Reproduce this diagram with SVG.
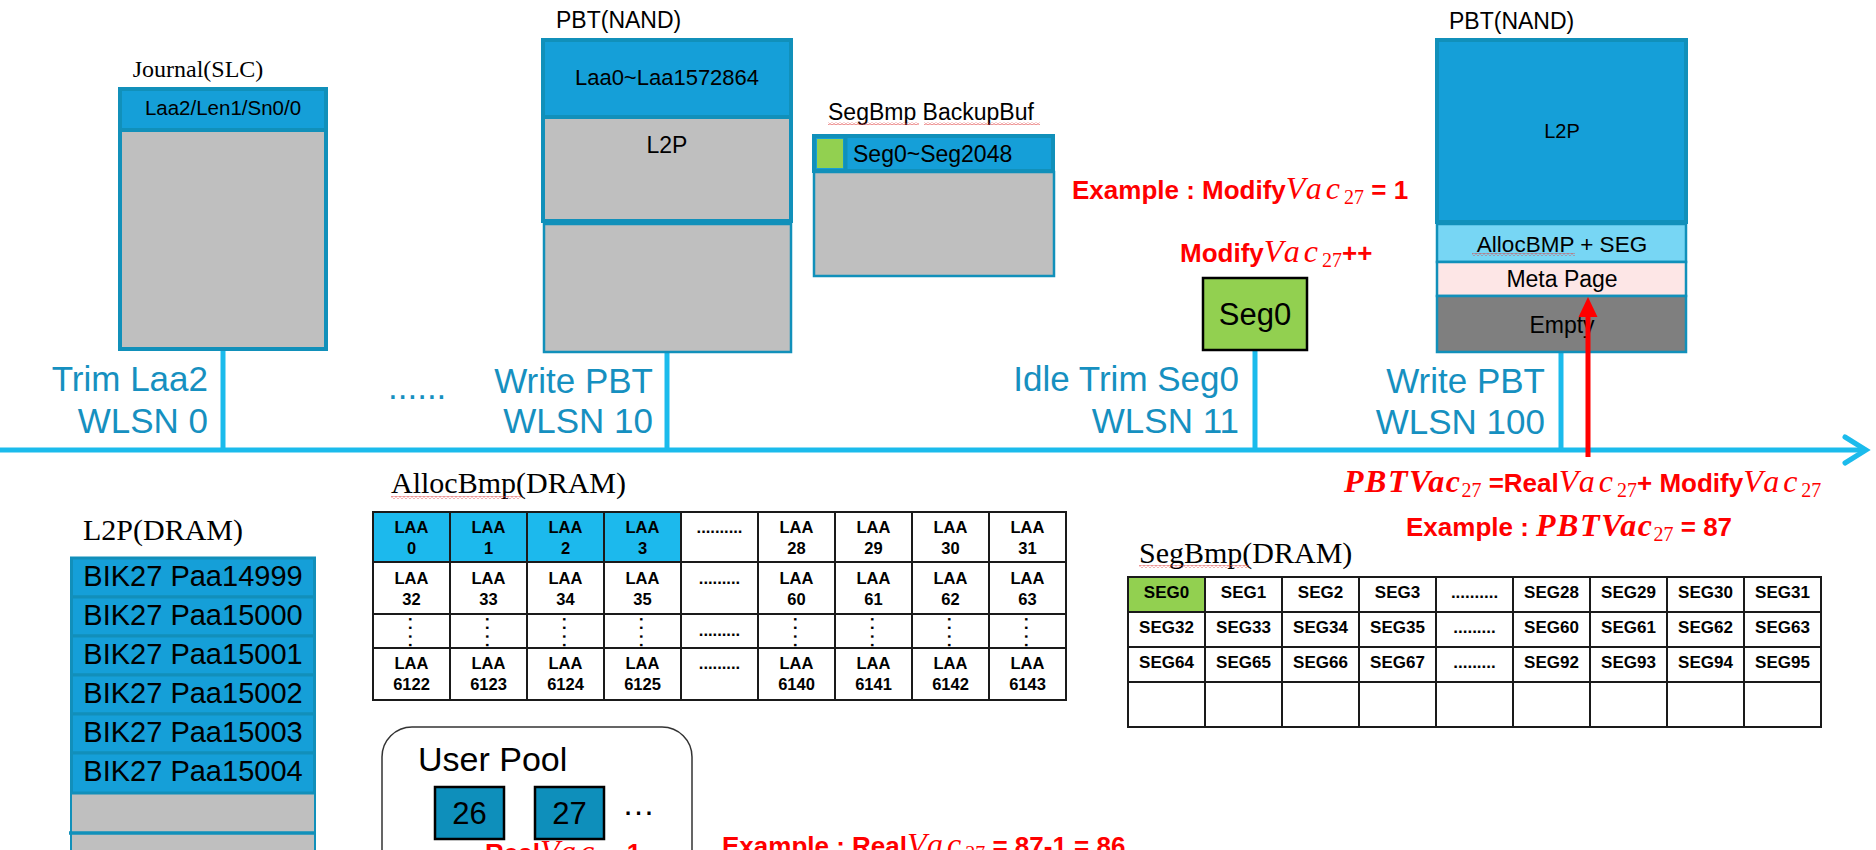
<svg xmlns="http://www.w3.org/2000/svg" width="1876" height="850" viewBox="0 0 1876 850">
<style>
.sans{font-family:"Liberation Sans",Arial,sans-serif}
.serif{font-family:"Liberation Serif","Times New Roman",serif}
.tl{font-family:"Liberation Sans",Arial,sans-serif;font-size:35px;fill:#1690c0;text-anchor:end}
.conn{stroke:#1bbbec;stroke-width:5;fill:none}
.thick{stroke:#1190ba;stroke-width:4}
.thin{stroke:#1190ba;stroke-width:2.5}
.blue{fill:#159fd8}
.gray{fill:#bfbfbf}
.mid{text-anchor:middle}
.rb{font-family:"Liberation Sans",Arial,sans-serif;font-weight:bold;font-size:26px;fill:#ff0000}
.mi{font-family:"Liberation Serif","Times New Roman",serif;font-style:italic;font-weight:normal;font-size:32px;letter-spacing:4px}
.mbi{font-family:"Liberation Serif","Times New Roman",serif;font-style:italic;font-weight:bold;font-size:32px;letter-spacing:1.5px}
.sub{font-family:"Liberation Serif","Times New Roman",serif;font-style:normal;font-weight:normal;font-size:20px;letter-spacing:0}
.grid{stroke:#1a1a1a;stroke-width:2;fill:none}
.cell{font-family:"Liberation Sans",Arial,sans-serif;font-weight:bold;font-size:16.5px;text-anchor:middle;fill:#000}
.seg{font-family:"Liberation Sans",Arial,sans-serif;font-weight:bold;font-size:17px;text-anchor:middle;fill:#000}
.row{fill:#159fd8;stroke:#128fba;stroke-width:3}
.rowt{font-family:"Liberation Sans",Arial,sans-serif;font-size:29px;text-anchor:middle;fill:#000}
</style>
<defs>
<pattern id="wavy" width="4" height="3" patternUnits="userSpaceOnUse"><path d="M0,2.2 L2,0.6 L4,2.2" stroke="#e04040" fill="none" stroke-width="0.8"/></pattern>
</defs>
<rect width="1876" height="850" fill="#ffffff"/>

<g id="connectors">
<line class="conn" x1="0" y1="450" x2="1863" y2="450"/>
<polyline class="conn" points="1845,437 1866,450 1845,463" stroke-linecap="round"/>
<line class="conn" x1="223" y1="351" x2="223" y2="450"/>
<line class="conn" x1="667" y1="353" x2="667" y2="450"/>
<line class="conn" x1="1255" y1="351" x2="1255" y2="450"/>
<line class="conn" x1="1561" y1="353" x2="1561" y2="450"/>
</g>

<g id="journal">
<text class="serif mid" x="198" y="77" font-size="24">Journal(SLC)</text>
<rect class="gray" x="120" y="89" width="206" height="260"/>
<rect class="blue" x="120" y="89" width="206" height="41"/>
<line class="thick" x1="120" y1="130" x2="326" y2="130"/>
<rect class="thick" x="120" y="89" width="206" height="260" fill="none"/>
<text class="sans mid" x="223" y="115" font-size="20.5">Laa2/Len1/Sn0/0</text>
</g>

<g id="pbt1">
<text class="sans" x="556" y="28" font-size="23">PBT(NAND)</text>
<rect class="gray thin" x="544" y="224" width="247" height="128"/>
<rect class="gray" x="543" y="40" width="248" height="181"/>
<rect class="blue" x="543" y="40" width="248" height="77"/>
<line class="thick" x1="543" y1="117" x2="791" y2="117"/>
<rect class="thick" x="543" y="40" width="248" height="181" fill="none"/>
<text class="sans mid" x="667" y="85" font-size="22">Laa0~Laa1572864</text>
<text class="sans mid" x="667" y="153" font-size="23">L2P</text>
</g>

<g id="segbmp-backup">
<text class="sans" x="828" y="120" font-size="23">SegBmp BackupBuf</text>
<rect x="828" y="122" width="91" height="3" fill="url(#wavy)"/>
<rect x="924" y="122" width="116" height="3" fill="url(#wavy)"/>
<rect class="gray thin" x="814" y="172" width="240" height="104"/>
<rect class="blue thick" x="814" y="136" width="239" height="35"/>
<rect x="817" y="139" width="26" height="29" fill="#92d050"/>
<line class="thick" x1="845.5" y1="137" x2="845.5" y2="170"/>
<text class="sans" x="853" y="162" font-size="23">Seg0~Seg2048</text>
</g>

<g id="seg0">
<rect x="1203" y="278" width="104" height="72" fill="#92d050" stroke="#000" stroke-width="2.5"/>
<text class="sans mid" x="1255" y="325" font-size="31">Seg0</text>
</g>

<g id="pbt2">
<text class="sans" x="1449" y="29" font-size="23">PBT(NAND)</text>
<rect class="thin" x="1437" y="224" width="249" height="38" fill="#77d6f4"/>
<rect class="thin" x="1437" y="262" width="249" height="34" fill="#fde6e6"/>
<rect class="thin" x="1437" y="296" width="249" height="56" fill="#7f7f7f"/>
<rect class="blue thick" x="1437" y="40" width="249" height="182"/>
<text class="sans mid" x="1562" y="138" font-size="20">L2P</text>
<text class="sans mid" x="1562" y="252" font-size="22.5">AllocBMP + SEG</text>
<rect x="1472" y="253" width="103" height="3" fill="url(#wavy)"/>
<text class="sans mid" x="1562" y="287" font-size="23">Meta Page</text>
<text class="sans mid" x="1562" y="333" font-size="23">Empty</text>
</g>

<g id="red-arrow">
<line x1="1588" y1="457" x2="1588" y2="314" stroke="#ff0000" stroke-width="5"/>
<polygon points="1588,297 1578.5,317 1597.5,317" fill="#ff0000"/>
</g>

<g id="timeline-labels">
<text class="tl" x="208" y="391">Trim Laa2</text>
<text class="tl" x="208" y="433">WLSN 0</text>
<text class="sans" x="388" y="399" font-size="35" fill="#1690c0">......</text>
<text class="tl" x="653" y="393">Write PBT</text>
<text class="tl" x="653" y="433">WLSN 10</text>
<text class="tl" x="1239" y="391">Idle Trim Seg0</text>
<text class="tl" x="1239" y="433">WLSN 11</text>
<text class="tl" x="1545" y="393">Write PBT</text>
<text class="tl" x="1545" y="434">WLSN 100</text>
</g>

<g id="red-notes">
<text class="rb" x="1072" y="199">Example : Modify<tspan class="mi">Vac</tspan><tspan class="sub" dy="5">27</tspan><tspan dy="-5"> = 1</tspan></text>
<text class="rb" x="1180" y="262">Modify<tspan class="mi">Vac</tspan><tspan class="sub" dy="5">27</tspan><tspan dy="-5">++</tspan></text>
<text class="rb" x="1344" y="492"><tspan class="mbi">PBTVac</tspan><tspan class="sub" dy="5">27</tspan><tspan dy="-5"> =Real</tspan><tspan class="mi">Vac</tspan><tspan class="sub" dy="5">27</tspan><tspan dy="-5">+ Modify</tspan><tspan class="mi">Vac</tspan><tspan class="sub" dy="5">27</tspan></text>
<text class="rb" x="1406" y="536">Example : <tspan class="mbi">PBTVac</tspan><tspan class="sub" dy="5">27</tspan><tspan dy="-5"> = 87</tspan></text>
<text class="rb" x="485" y="862">Real<tspan class="mi">Vac</tspan><tspan class="sub" dy="5">27</tspan><tspan dy="-5">-1</tspan></text>
<text class="rb" x="722" y="855">Example : Real<tspan class="mi">Vac</tspan><tspan class="sub" dy="5">27</tspan><tspan dy="-5"> = 87-1 = 86</tspan></text>
</g>

<g id="l2p-dram">
<text class="serif" x="83" y="540" font-size="30">L2P(DRAM)</text>
<rect class="gray" x="71" y="793" width="244" height="60"/>
<line x1="71" y1="793" x2="71" y2="850" stroke="#1190ba" stroke-width="2"/>
<line x1="315" y1="793" x2="315" y2="850" stroke="#1190ba" stroke-width="2"/>
<line x1="69" y1="833" x2="314" y2="833" stroke="#1190ba" stroke-width="3.5"/>
<rect class="row" x="71.5" y="558" width="243" height="39"/>
<rect class="row" x="71.5" y="597" width="243" height="39"/>
<rect class="row" x="71.5" y="636" width="243" height="39"/>
<rect class="row" x="71.5" y="675" width="243" height="39"/>
<rect class="row" x="71.5" y="714" width="243" height="39"/>
<rect class="row" x="71.5" y="753" width="243" height="40"/>
<text class="rowt" x="193" y="586">BIK27 Paa14999</text>
<text class="rowt" x="193" y="625">BIK27 Paa15000</text>
<text class="rowt" x="193" y="664">BIK27 Paa15001</text>
<text class="rowt" x="193" y="703">BIK27 Paa15002</text>
<text class="rowt" x="193" y="742">BIK27 Paa15003</text>
<text class="rowt" x="193" y="781">BIK27 Paa15004</text>
</g>

<g id="allocbmp">
<text class="serif" x="391" y="493" font-size="30">AllocBmp(DRAM)</text>
<rect x="391" y="496" width="130" height="3" fill="url(#wavy)"/>
<rect x="373" y="512" width="308" height="50" fill="#1cb9ed"/>
<rect class="grid" x="373" y="512" width="693" height="188"/>
<path class="grid" d="M450,512V700M527,512V700M604,512V700M681,512V700M758,512V700M835,512V700M912,512V700M989,512V700M373,562H1066M373,614H1066M373,648H1066"/>
<g class="cell">
<text x="411.5" y="533">LAA</text><text x="411.5" y="554">0</text>
<text x="488.5" y="533">LAA</text><text x="488.5" y="554">1</text>
<text x="565.5" y="533">LAA</text><text x="565.5" y="554">2</text>
<text x="642.5" y="533">LAA</text><text x="642.5" y="554">3</text>
<text x="719.5" y="533">..........</text>
<text x="796.5" y="533">LAA</text><text x="796.5" y="554">28</text>
<text x="873.5" y="533">LAA</text><text x="873.5" y="554">29</text>
<text x="950.5" y="533">LAA</text><text x="950.5" y="554">30</text>
<text x="1027.5" y="533">LAA</text><text x="1027.5" y="554">31</text>
<text x="411.5" y="584">LAA</text><text x="411.5" y="605">32</text>
<text x="488.5" y="584">LAA</text><text x="488.5" y="605">33</text>
<text x="565.5" y="584">LAA</text><text x="565.5" y="605">34</text>
<text x="642.5" y="584">LAA</text><text x="642.5" y="605">35</text>
<text x="719.5" y="584">.........</text>
<text x="796.5" y="584">LAA</text><text x="796.5" y="605">60</text>
<text x="873.5" y="584">LAA</text><text x="873.5" y="605">61</text>
<text x="950.5" y="584">LAA</text><text x="950.5" y="605">62</text>
<text x="1027.5" y="584">LAA</text><text x="1027.5" y="605">63</text>
<text x="719.5" y="636">.........</text>
<text x="411.5" y="669">LAA</text><text x="411.5" y="690">6122</text>
<text x="488.5" y="669">LAA</text><text x="488.5" y="690">6123</text>
<text x="565.5" y="669">LAA</text><text x="565.5" y="690">6124</text>
<text x="642.5" y="669">LAA</text><text x="642.5" y="690">6125</text>
<text x="719.5" y="669">.........</text>
<text x="796.5" y="669">LAA</text><text x="796.5" y="690">6140</text>
<text x="873.5" y="669">LAA</text><text x="873.5" y="690">6141</text>
<text x="950.5" y="669">LAA</text><text x="950.5" y="690">6142</text>
<text x="1027.5" y="669">LAA</text><text x="1027.5" y="690">6143</text>
</g>
<g class="cell" style="text-anchor:start;letter-spacing:4px">
<text transform="translate(409,617) rotate(90)">....</text>
<text transform="translate(486,617) rotate(90)">....</text>
<text transform="translate(563,617) rotate(90)">....</text>
<text transform="translate(640,617) rotate(90)">....</text>
<text transform="translate(794,617) rotate(90)">....</text>
<text transform="translate(871,617) rotate(90)">....</text>
<text transform="translate(948,617) rotate(90)">....</text>
<text transform="translate(1025,617) rotate(90)">....</text>
</g>
</g>

<g id="segbmp-dram">
<text class="serif" x="1139" y="563" font-size="30">SegBmp(DRAM)</text>
<rect x="1139" y="565" width="110" height="3" fill="url(#wavy)"/>
<rect x="1128" y="577" width="77" height="35" fill="#92d050"/>
<rect class="grid" x="1128" y="577" width="693" height="150"/>
<path class="grid" d="M1205,577V727M1282,577V727M1359,577V727M1436,577V727M1513,577V727M1590,577V727M1667,577V727M1744,577V727M1128,612H1821M1128,647H1821M1128,682H1821"/>
<g class="seg">
<text x="1166.5" y="598">SEG0</text><text x="1243.5" y="598">SEG1</text><text x="1320.5" y="598">SEG2</text><text x="1397.5" y="598">SEG3</text><text x="1474.5" y="598">..........</text><text x="1551.5" y="598">SEG28</text><text x="1628.5" y="598">SEG29</text><text x="1705.5" y="598">SEG30</text><text x="1782.5" y="598">SEG31</text>
<text x="1166.5" y="633">SEG32</text><text x="1243.5" y="633">SEG33</text><text x="1320.5" y="633">SEG34</text><text x="1397.5" y="633">SEG35</text><text x="1474.5" y="633">.........</text><text x="1551.5" y="633">SEG60</text><text x="1628.5" y="633">SEG61</text><text x="1705.5" y="633">SEG62</text><text x="1782.5" y="633">SEG63</text>
<text x="1166.5" y="668">SEG64</text><text x="1243.5" y="668">SEG65</text><text x="1320.5" y="668">SEG66</text><text x="1397.5" y="668">SEG67</text><text x="1474.5" y="668">.........</text><text x="1551.5" y="668">SEG92</text><text x="1628.5" y="668">SEG93</text><text x="1705.5" y="668">SEG94</text><text x="1782.5" y="668">SEG95</text>
</g>
</g>

<g id="user-pool">
<rect x="382" y="727" width="310" height="200" rx="30" fill="none" stroke="#333" stroke-width="1.5"/>
<text class="sans" x="418" y="771" font-size="34">User Pool</text>
<rect x="435" y="787" width="69" height="52" fill="#0e8fbb" stroke="#000" stroke-width="2.5"/>
<text class="sans mid" x="469.5" y="824" font-size="31">26</text>
<rect x="535" y="787" width="69" height="52" fill="#0e8fbb" stroke="#000" stroke-width="2.5"/>
<text class="sans mid" x="569.5" y="824" font-size="31">27</text>
<text class="sans" x="622" y="815" font-size="33">…</text>
</g>
</svg>
